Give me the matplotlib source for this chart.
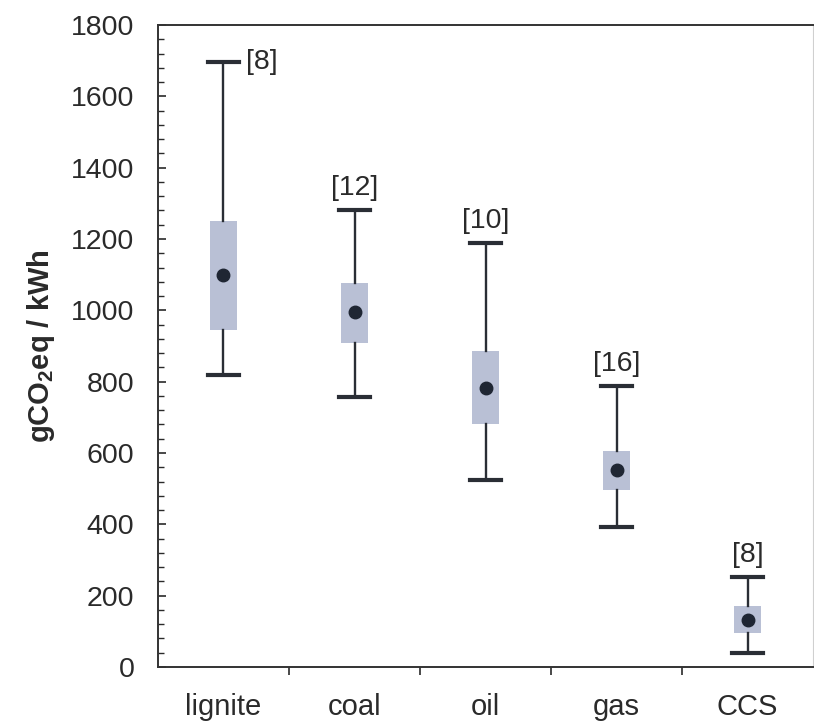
import matplotlib
matplotlib.use('Agg')

import matplotlib.pyplot as plt
from matplotlib.ticker import MultipleLocator, FixedLocator, NullFormatter

# ── 데이터 ───────────────────────────────────────────────────────────────────
CATEGORIES = ['lignite', 'coal', 'oil', 'gas', 'CCS']
WHIS_LO    = [820, 757, 524, 393, 39]
Q1         = [945, 908, 680, 495, 95]
MEDIAN     = [1100, 995, 782, 551, 131]
Q3         = [1250, 1078, 887, 606, 172]
WHIS_HI    = [1695, 1280, 1188, 787, 251]
N_STUDIES  = [8, 12, 10, 16, 8]

# ── 스타일 ───────────────────────────────────────────────────────────────────
BOX_COLOR  = '#b9c0d5'
LINE_COLOR = '#2a2e35'
DOT_COLOR  = '#1f2633'
TEXT_COLOR = '#2a2a2a'

plt.rcParams['font.family'] = ['Liberation Sans', 'DejaVu Sans']
plt.rcParams['mathtext.fontset'] = 'custom'
plt.rcParams['mathtext.rm'] = 'Liberation Sans'
plt.rcParams['mathtext.bf'] = 'Liberation Sans:bold'

fig = plt.figure(figsize=(8.14, 7.21), dpi=100)
ax = fig.add_axes([0.1941, 0.0749, 0.8047, 0.8904])

positions = list(range(len(CATEGORIES)))
stats = [
    dict(whislo=lo, q1=q1, med=md, q3=q3, whishi=hi, fliers=[])
    for lo, q1, md, q3, hi in zip(WHIS_LO, Q1, MEDIAN, Q3, WHIS_HI)
]
ax.bxp(
    stats, positions=positions, widths=0.2, capwidths=0.23,
    patch_artist=True, showfliers=False,
    boxprops=dict(facecolor=BOX_COLOR, edgecolor='none'),
    whiskerprops=dict(color=LINE_COLOR, linewidth=1.7),
    capprops=dict(color=LINE_COLOR, linewidth=3.0),
    medianprops=dict(linewidth=0),
    manage_ticks=False,
)
ax.plot(positions, MEDIAN, 'o', color=DOT_COLOR, markersize=9, zorder=5)

# 연구 수 라벨
for i, (hi, n) in enumerate(zip(WHIS_HI, N_STUDIES)):
    if i == 0:
        ax.annotate(f'[{n}]', xy=(i + 0.17, hi), ha='left', va='center',
                    fontsize=20.5, color=TEXT_COLOR)
    else:
        ax.annotate(f'[{n}]', xy=(i, hi), xytext=(0, 7), textcoords='offset points',
                    ha='center', va='bottom', fontsize=20.5, color=TEXT_COLOR)

# 축
ax.set_xlim(-0.5, 4.5)
ax.set_ylim(0, 1800)
ax.yaxis.set_major_locator(MultipleLocator(200))
ax.yaxis.set_minor_locator(MultipleLocator(40))
ax.tick_params(axis='y', which='major', direction='in', length=6, width=1.2,
               labelsize=20.5, pad=17, colors=TEXT_COLOR)
ax.tick_params(axis='y', which='minor', direction='in', length=4, width=1.0,
               color=TEXT_COLOR)

ax.xaxis.set_major_locator(FixedLocator([0.5, 1.5, 2.5, 3.5]))
ax.xaxis.set_major_formatter(NullFormatter())
ax.xaxis.set_minor_locator(FixedLocator(positions))
ax.set_xticklabels(CATEGORIES, minor=True)
ax.tick_params(axis='x', which='major', direction='out', length=6, width=1.2,
               color=TEXT_COLOR)
ax.tick_params(axis='x', which='minor', length=0, labelsize=21, pad=19,
               colors=TEXT_COLOR)

ax.set_ylabel(r'$\mathbf{gCO_2eq}$ / kWh', fontsize=21, fontweight='bold',
              color=TEXT_COLOR, labelpad=10)

for side in ['left', 'bottom', 'top']:
    ax.spines[side].set_color('#333333')
    ax.spines[side].set_linewidth(1.4)
ax.spines['right'].set_color('#d0d0d0')

fig.savefig('out.png', dpi=100)
